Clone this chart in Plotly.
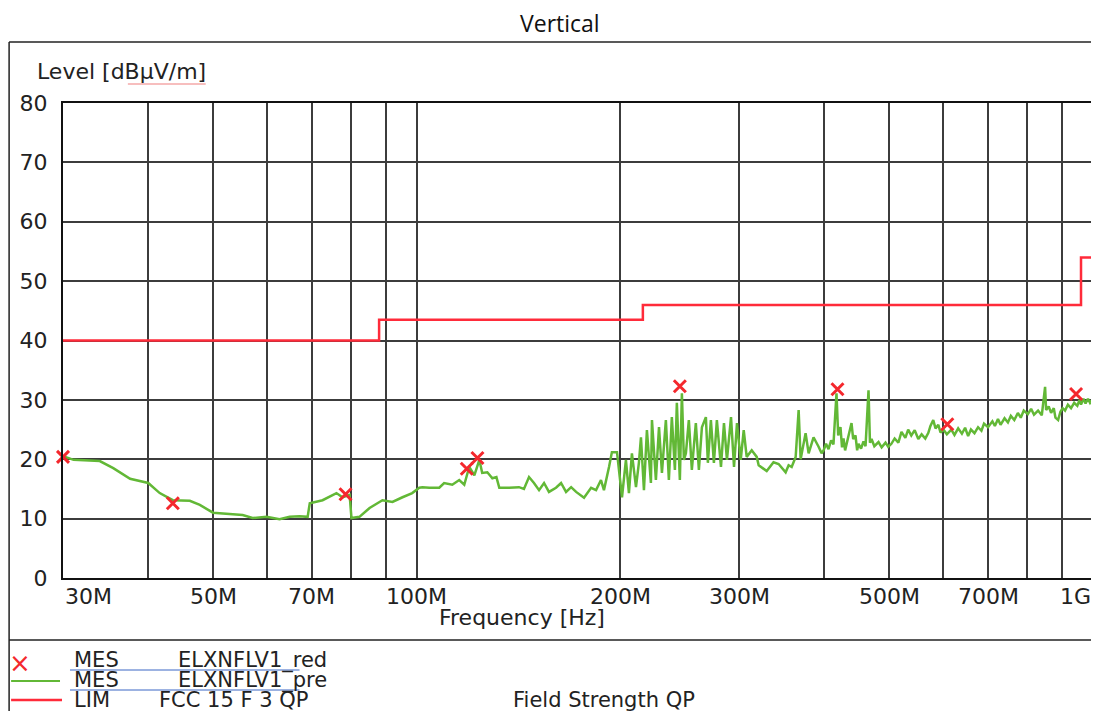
import numpy as np
import plotly.graph_objects as go

# ---------------- data ----------------
# pre-scan trace (MHz, dBuV/m)
pre_freq = [30.0, 31.1, 34.0, 35.6, 37.7, 39.4, 40.1, 41.7, 43.6, 46.2, 47.8, 50.0, 52.4, 55.3, 57.2,
            60.0, 62.7, 64.9, 67.1, 69.0, 69.5, 72.6, 76.1, 77.7, 79.6, 80.1, 82.3, 85.2, 89.0, 92.1,
            95.3, 98.5, 100.9, 102.0, 104.4, 108.0, 109.8, 112.9, 115.6, 117.6, 119.6, 121.7, 123.8,
            125.0, 127.2, 129.4, 131.2, 132.5, 137.0, 141.7, 144.1, 146.6, 149.1, 151.7, 154.3, 156.9,
            160.7, 163.5, 166.3, 169.2, 172.1, 176.8, 181.1, 184.2, 187.3, 189.2, 192.5, 194.4, 197.8,
            199.1, 201.2, 203.9, 206.0, 208.1, 211.0, 213.1, 214.6, 216.8, 219.0, 222.0, 222.8, 225.8,
            228.2, 230.5, 233.6, 236.0, 238.4, 240.9, 242.5, 245.0, 246.7, 248.4, 250.1, 252.6, 255.2,
            258.7, 261.4, 264.1, 267.7, 269.5, 272.3, 275.1, 277.9, 281.8, 284.7, 287.6, 291.6, 294.6,
            297.6, 301.4, 304.5, 307.6, 312.9, 318.3, 320.4, 329.3, 337.0, 342.9, 351.2, 354.8, 358.5,
            363.4, 367.1, 369.6, 375.9, 379.8, 386.2, 392.9, 396.9, 399.6, 403.0, 406.4, 410.0, 413.3,
            417.6, 420.0, 423.3, 425.5, 427.7, 430.0, 432.1, 436.0, 439.5, 442.0, 445.5, 448.0, 450.1,
            454.0, 457.8, 461.0, 465.7, 468.0, 470.5, 475.0, 481.8, 487.0, 493.4, 498.0, 503.4, 509.0,
            515.5, 521.0, 527.9, 533.0, 538.7, 545.0, 551.7, 558.0, 565.0, 570.7, 575.0, 580.5, 585.0,
            590.7, 595.0, 600.8, 608.0, 617.3, 624.0, 631.9, 640.0, 647.0, 653.7, 660.0, 668.0, 676.2,
            684.0, 690.0, 699.5, 710.0, 716.0, 723.6, 730.0, 740.0, 748.5, 756.0, 765.0, 774.3, 782.0,
            790.0, 801.0, 810.0, 818.0, 829.5, 840.0, 849.5, 852.4, 860.0, 867.0, 875.0, 880.0, 888.0,
            895.0, 902.0, 909.2, 918.0, 928.0, 938.0, 948.0, 955.0, 960.0, 968.0, 975.0, 983.0, 990.0,
            1000.0]
pre_level = [20.5, 19.9, 19.7, 18.5, 16.7, 16.2, 16.0, 14.3, 13.1, 13.0, 12.3, 11.0, 10.8, 10.6, 10.1,
             10.3, 9.9, 10.3, 10.4, 10.3, 12.6, 13.1, 14.3, 13.6, 14.0, 10.1, 10.3, 11.8, 13.1, 12.8,
             13.6, 14.3, 15.2, 15.3, 15.2, 15.2, 16.0, 15.7, 16.5, 15.7, 18.7, 17.3, 19.9,
             17.7, 17.8, 16.8, 17.0, 15.2, 15.2, 15.3, 15.0, 17.0, 16.0, 14.8, 16.0, 14.5,
             15.2, 16.0, 14.5, 15.3, 14.5, 13.5, 15.2, 14.8, 16.5, 14.8, 18.7, 21.2, 21.2,
             18.2, 13.6, 19.9, 14.3, 21.0, 15.3, 19.4, 23.7, 14.8, 24.9, 16.0, 26.6, 16.5,
             25.4, 17.7, 26.6, 16.5, 27.1, 18.2, 29.5, 16.5, 31.1, 19.9, 21.0, 26.6, 18.2,
             26.1, 18.2, 25.4, 27.1, 19.4, 26.6, 19.4, 26.6, 18.7, 26.1, 19.9, 27.1, 18.7,
             26.1, 19.9, 24.9, 20.4, 21.5, 20.4, 19.0, 18.0, 19.5, 19.2, 17.8, 19.0, 18.7,
             20.4, 28.3, 20.0, 24.4, 21.0, 23.7, 22.1, 21.0, 21.5, 22.6, 21.7, 23.2, 22.5,
             31.1, 24.0, 25.4, 22.0, 23.5, 21.5, 22.5, 24.4, 26.1, 23.4, 24.0, 21.5, 22.6,
             21.8, 23.0, 22.2, 31.6, 22.8, 23.4, 22.2, 22.9, 22.0, 22.8, 22.1, 22.6, 23.5,
             22.8, 24.6, 23.6, 25.0, 24.0, 24.9, 23.4, 24.2, 23.5, 24.4, 25.6, 26.6, 25.2,
             25.8, 24.5, 25.0, 24.2, 25.0, 24.1, 25.2, 24.3, 25.3, 23.9, 25.0, 24.4, 25.4,
             24.8, 26.0, 25.4, 26.4, 25.6, 26.8, 25.8, 26.9, 26.2, 27.3, 26.6, 27.8, 27.0,
             28.2, 27.6, 28.5, 27.5, 28.2, 27.4, 32.2, 28.3, 28.9, 27.8, 28.6, 27.0, 26.6,
             28.0, 28.6, 28.2, 29.2, 28.6, 29.5, 29.0, 30.0, 29.2, 30.2, 29.4, 30.2, 29.5,
             30.2]

# final measurement points
mes_freq = [30.0, 43.6, 78.5, 118.6, 123.0, 245.0, 419.0, 609.0, 944.0]
mes_level = [20.4, 12.6, 14.1, 18.4, 20.2, 32.3, 31.8, 25.9, 31.0]

# limit line FCC 15 F 3 QP (step)
lim_freq = [30, 88, 216, 960, 1000]
lim_level = [40, 43.5, 46, 54, 54]

# axes
grid_freq = [30, 40, 50, 60, 70, 80, 90, 100, 200, 300, 400, 500, 600, 700, 800, 900, 1000]
label_freq = [30, 50, 70, 100, 200, 300, 500, 700, 1000]
label_text = ["30M", "50M", "70M", "100M", "200M", "300M", "500M", "700M", "1G"]
y_ticks = [0, 10, 20, 30, 40, 50, 60, 70, 80]

# ---------------- figure ----------------
# the page body has an 8px margin; work in page pixel coordinates and offset
OFF = 8
W, H = 1099 - OFF, 711 - OFF
PL, PR, PT, PB = 63, 1095, 103, 578   # plot area in page pixels


def px(x):
    return (x - PL) / (PR - PL)


def py(y):
    return (PB - y) / (PB - PT)


FONT = "DejaVu Sans"
TXT = "#222222"
GREEN = "#62b836"

fig = go.Figure()
fig.add_trace(go.Scatter(x=pre_freq, y=pre_level, mode="lines",
                         line=dict(color=GREEN, width=2.5), showlegend=False,
                         hoverinfo="skip"))
fig.add_trace(go.Scatter(x=lim_freq, y=lim_level, mode="lines", line_shape="hv",
                         line=dict(color="#ff2b3a", width=2.5), showlegend=False))
fig.add_trace(go.Scatter(x=mes_freq, y=mes_level, mode="markers", cliponaxis=False,
                         marker=dict(symbol="x-thin", size=12,
                                     line=dict(width=3, color="#f4282d")),
                         showlegend=False))

fig.update_layout(
    width=W, height=H,
    margin=dict(l=PL - OFF, r=1099 - PR, t=PT - OFF, b=711 - PB),
    paper_bgcolor="white", plot_bgcolor="white",
    font=dict(family=FONT, color=TXT),
)
fig.update_xaxes(type="log", range=[np.log10(30), np.log10(1000)],
                 tickvals=grid_freq, showticklabels=False, ticks="",
                 showgrid=True, gridcolor="#3c3c3c", gridwidth=1.5,
                 showline=True, mirror=True, linecolor="#111", linewidth=2,
                 zeroline=False)
fig.update_yaxes(range=[0, 80], tickvals=y_ticks, ticks="",
                 tickfont=dict(size=22, family=FONT, color=TXT),
                 ticklabelstandoff=9,
                 showgrid=True, gridcolor="#3c3c3c", gridwidth=1.5,
                 showline=True, mirror=True, linecolor="#111", linewidth=2,
                 zeroline=False)

ann = []
for f, t in zip(label_freq, label_text):
    anchor = "center"
    if f == label_freq[0]:
        anchor = "left"
    elif f == label_freq[-1]:
        anchor = "right"
    ann.append(dict(x=np.log10(f), xref="x", y=py(596), yref="paper", text=t,
                    showarrow=False, xanchor=anchor, yanchor="middle",
                    font=dict(size=22, family=FONT, color=TXT)))

LEG = 21
extra = [
    dict(x=px(561), y=py(23), text="Vertical", font=dict(size=23, family="Open Sans", color="#111")),
    dict(x=px(35), y=py(72), text="Level [dBµV/m]", xanchor="left", font=dict(size=22, family=FONT, color=TXT)),
    dict(x=px(523), y=py(617), text="Frequency [Hz]", font=dict(size=22, family=FONT, color=TXT)),
    dict(x=px(20), y=py(663), text="×", font=dict(size=26, family=FONT, color="#f4282d")),
    dict(x=px(72), y=py(660), text="MES", xanchor="left", font=dict(size=LEG, family=FONT, color=TXT)),
    dict(x=px(176), y=py(660), text="ELXNFLV1_red", xanchor="left", font=dict(size=LEG, family=FONT, color=TXT)),
    dict(x=px(72), y=py(680), text="MES", xanchor="left", font=dict(size=LEG, family=FONT, color=TXT)),
    dict(x=px(176), y=py(680), text="ELXNFLV1_pre", xanchor="left", font=dict(size=LEG, family=FONT, color=TXT)),
    dict(x=px(72), y=py(700), text="LIM", xanchor="left", font=dict(size=LEG, family=FONT, color=TXT)),
    dict(x=px(157), y=py(700), text="FCC 15 F 3 QP", xanchor="left", font=dict(size=LEG, family=FONT, color=TXT)),
    dict(x=px(512), y=py(700), text="Field Strength QP", xanchor="left", font=dict(size=LEG, family=FONT, color=TXT)),
]
for a in extra:
    a.setdefault("xref", "paper")
    a.setdefault("yref", "paper")
    a.setdefault("showarrow", False)
    a.setdefault("xanchor", "center")
    a.setdefault("yanchor", "middle")
fig.update_layout(annotations=ann + extra)


def seg(x0, y0, x1, y1, color, width):
    return dict(type="line", xref="paper", yref="paper", x0=px(x0), y0=py(y0),
                x1=px(x1), y1=py(y1), line=dict(color=color, width=width), layer="above")


shapes = [
    seg(9, 42, 1099, 42, "#222", 1.5),      # outer top
    seg(9, 42, 9, 711, "#222", 1.5),        # outer left
    seg(9, 640, 1099, 640, "#222", 1.5),    # legend separator
    seg(11, 681, 60, 681, GREEN, 2),        # legend green
    seg(11, 700, 62, 700, "#ff2b3a", 2.5),  # legend red
    seg(70, 670, 300, 670, "#3a66c4", 1),   # underline row 1
    seg(70, 690, 300, 690, "#3a66c4", 1),   # underline row 2
    seg(128, 84, 206, 84, "rgba(230,40,40,0.6)", 1.2),
]
fig.update_layout(shapes=shapes)

fig.write_html("out.html")
